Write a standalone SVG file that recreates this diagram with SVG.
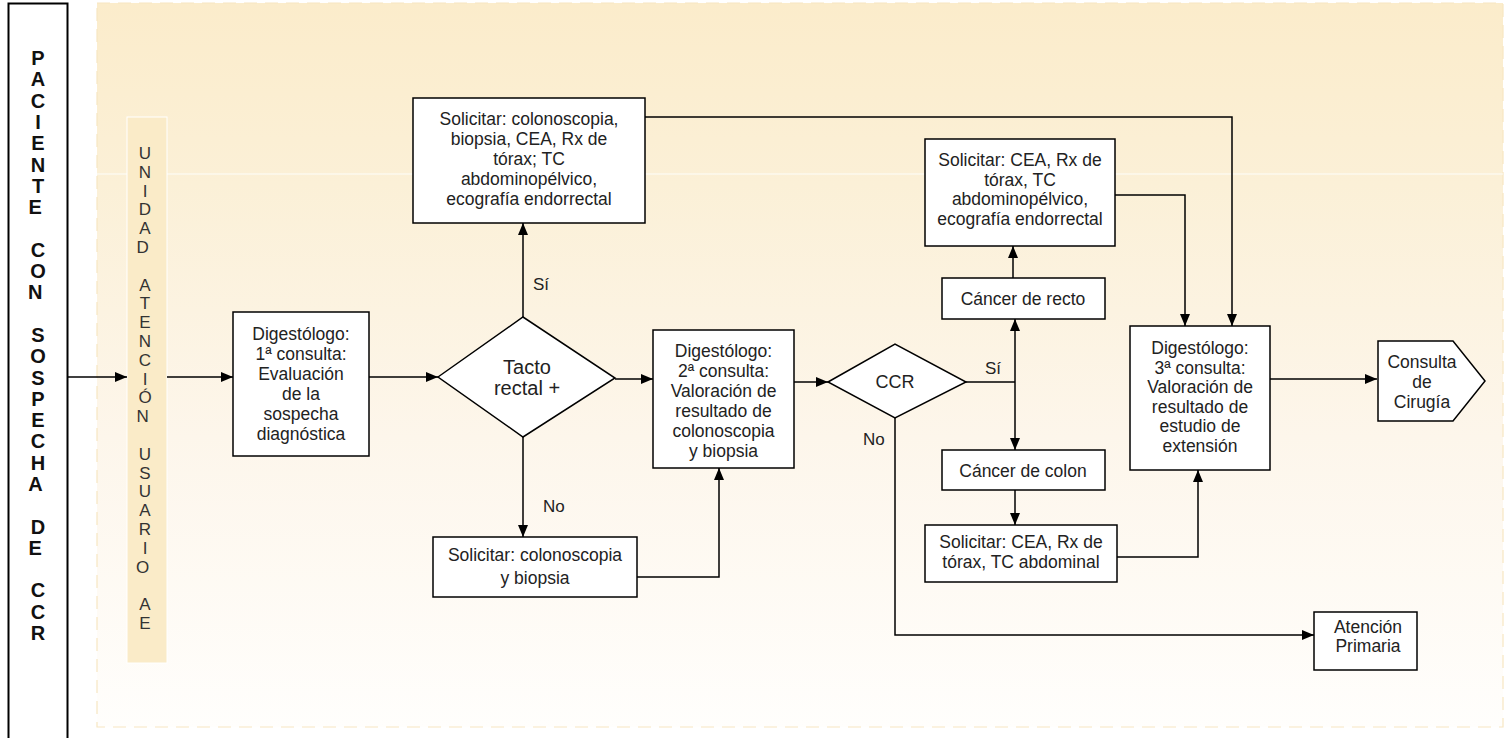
<svg xmlns="http://www.w3.org/2000/svg" width="1505" height="738" viewBox="0 0 1505 738">
  <defs>
    <linearGradient id="bg" x1="0" y1="0" x2="0" y2="1">
      <stop offset="0" stop-color="#FBECCB"/>
      <stop offset="0.25" stop-color="#FBF0D7"/>
      <stop offset="0.6" stop-color="#FDF6EB"/>
      <stop offset="1" stop-color="#FFFEFC"/>
    </linearGradient>
    <marker id="arr" viewBox="0 0 12 10" refX="12" refY="5" markerWidth="12" markerHeight="10" markerUnits="userSpaceOnUse" orient="auto">
      <path d="M0,0 L12,5 L0,10 Z" fill="#000"/>
    </marker>
  </defs>
  <style>
    .box { fill: #fff; stroke: #000; stroke-width: 1.5; }
    .t { font-family: "Liberation Sans", Arial, sans-serif; font-size: 17.5px; fill: #222; text-anchor: middle; }
    .dt { font-family: "Liberation Sans", Arial, sans-serif; font-size: 20px; fill: #222; text-anchor: middle; }
    .lbl { font-family: "Liberation Sans", Arial, sans-serif; font-size: 17px; fill: #222; }
    .side { font-family: "Liberation Sans", Arial, sans-serif; font-size: 20px; font-weight: bold; fill: #111; text-anchor: middle; }
    .unit { font-family: "Liberation Sans", Arial, sans-serif; font-size: 17px; fill: #333; text-anchor: middle; }
    .conn { fill: none; stroke: #000; stroke-width: 1.5; }
  </style>

  <rect width="1505" height="738" fill="#fff"/>

  <!-- shaded working area -->
  <g id="area">
    <rect x="97" y="3" width="1406" height="724" fill="url(#bg)" stroke="#F7E6C2" stroke-width="1.2" stroke-dasharray="13 8"/>
    <line x1="97" y1="174" x2="1503" y2="174" stroke="#fff" stroke-width="1.2" opacity="0.9"/>
  </g>

  <!-- patient lane -->
  <g id="lane-patient">
    <rect x="8.5" y="3.5" width="59" height="740" fill="#fff" stroke="#000" stroke-width="2"/>
    <text class="side" x="38" y="65">
      <tspan x="38">P</tspan><tspan x="38" dy="21.3">A</tspan><tspan x="38" dy="21.3">C</tspan><tspan x="38" dy="21.3">I</tspan><tspan x="38" dy="21.3">E</tspan><tspan x="38" dy="21.3">N</tspan><tspan x="38" dy="21.3">T</tspan><tspan x="38" dy="21.3">E</tspan>
      <tspan x="38" dy="42.6">C</tspan><tspan x="38" dy="21.3">O</tspan><tspan x="38" dy="21.3">N</tspan>
      <tspan x="38" dy="42.6">S</tspan><tspan x="38" dy="21.3">O</tspan><tspan x="38" dy="21.3">S</tspan><tspan x="38" dy="21.3">P</tspan><tspan x="38" dy="21.3">E</tspan><tspan x="38" dy="21.3">C</tspan><tspan x="38" dy="21.3">H</tspan><tspan x="38" dy="21.3">A</tspan>
      <tspan x="38" dy="42.6">D</tspan><tspan x="38" dy="21.3">E</tspan>
      <tspan x="38" dy="42.6">C</tspan><tspan x="38" dy="21.3">C</tspan><tspan x="38" dy="21.3">R</tspan>
    </text>
  </g>

  <!-- unit lane -->
  <g id="lane-unit">
    <rect x="127" y="117" width="40" height="546" fill="#FAEBC8" stroke="#fff" stroke-width="1"/>
    <text class="unit" x="145" y="159">
      <tspan x="145">U</tspan><tspan x="145" dy="18.8">N</tspan><tspan x="145" dy="18.8">I</tspan><tspan x="145" dy="18.8">D</tspan><tspan x="145" dy="18.8">A</tspan><tspan x="145" dy="18.8">D</tspan>
      <tspan x="145" dy="37.6">A</tspan><tspan x="145" dy="18.8">T</tspan><tspan x="145" dy="18.8">E</tspan><tspan x="145" dy="18.8">N</tspan><tspan x="145" dy="18.8">C</tspan><tspan x="145" dy="18.8">I</tspan><tspan x="145" dy="18.8">Ó</tspan><tspan x="145" dy="18.8">N</tspan>
      <tspan x="145" dy="37.6">U</tspan><tspan x="145" dy="18.8">S</tspan><tspan x="145" dy="18.8">U</tspan><tspan x="145" dy="18.8">A</tspan><tspan x="145" dy="18.8">R</tspan><tspan x="145" dy="18.8">I</tspan><tspan x="145" dy="18.8">O</tspan>
      <tspan x="145" dy="37.6">A</tspan><tspan x="145" dy="18.8">E</tspan>
    </text>
  </g>

  <!-- connectors -->
  <g id="connectors">
    <line class="conn" x1="68" y1="377" x2="127" y2="377" marker-end="url(#arr)"/>
    <line class="conn" x1="167" y1="377" x2="233" y2="377" marker-end="url(#arr)"/>
    <line class="conn" x1="369" y1="377" x2="438" y2="377" marker-end="url(#arr)"/>
    <line class="conn" x1="523" y1="317" x2="523" y2="223" marker-end="url(#arr)"/>
    <line class="conn" x1="523" y1="437" x2="523" y2="537" marker-end="url(#arr)"/>
    <line class="conn" x1="615" y1="379" x2="653" y2="379" marker-end="url(#arr)"/>
    <polyline class="conn" points="637,577 719,577 719,468" marker-end="url(#arr)"/>
    <line class="conn" x1="794" y1="382" x2="828" y2="382" marker-end="url(#arr)"/>
    <line class="conn" x1="966" y1="382" x2="1015" y2="382"/>
    <line class="conn" x1="1015" y1="382" x2="1015" y2="319" marker-end="url(#arr)"/>
    <line class="conn" x1="1015" y1="382" x2="1015" y2="450" marker-end="url(#arr)"/>
    <line class="conn" x1="1013" y1="278" x2="1013" y2="246" marker-end="url(#arr)"/>
    <line class="conn" x1="1015" y1="490" x2="1015" y2="525" marker-end="url(#arr)"/>
    <polyline class="conn" points="645,117 1232,117 1232,326" marker-end="url(#arr)"/>
    <polyline class="conn" points="1115,195 1185,195 1185,326" marker-end="url(#arr)"/>
    <polyline class="conn" points="1117,557 1198,557 1198,470" marker-end="url(#arr)"/>
    <line class="conn" x1="1270" y1="379" x2="1377" y2="379" marker-end="url(#arr)"/>
    <polyline class="conn" points="895,418 895,635 1314,635" marker-end="url(#arr)"/>
    <text class="lbl" x="533" y="290">Sí</text>
    <text class="lbl" x="543" y="512">No</text>
    <text class="lbl" x="985" y="374">Sí</text>
    <text class="lbl" x="863" y="445">No</text>
  </g>

  <g id="n-consulta1">
    <rect class="box" x="233" y="312" width="136" height="144"/>
    <text class="t" x="301" y="340"><tspan x="301">Digestólogo:</tspan><tspan x="301" dy="20">1ª consulta:</tspan><tspan x="301" dy="20">Evaluación</tspan><tspan x="301" dy="20">de la</tspan><tspan x="301" dy="20">sospecha</tspan><tspan x="301" dy="20">diagnóstica</tspan></text>
  </g>

  <g id="n-tacto">
    <polygon class="box" points="438,377 523,317 615,378 523,437"/>
    <text class="dt" x="527" y="374"><tspan x="527">Tacto</tspan><tspan x="527" dy="21">rectal +</tspan></text>
  </g>

  <g id="n-solicitar-completo">
    <rect class="box" x="413" y="98" width="232" height="125"/>
    <text class="t" x="529" y="125"><tspan x="529">Solicitar: colonoscopia,</tspan><tspan x="529" dy="20">biopsia, CEA, Rx de</tspan><tspan x="529" dy="20">tórax; TC</tspan><tspan x="529" dy="20">abdominopélvico,</tspan><tspan x="529" dy="20">ecografía endorrectal</tspan></text>
  </g>

  <g id="n-solicitar-colono">
    <rect class="box" x="433" y="537" width="204" height="60"/>
    <text class="t" x="535" y="561"><tspan x="535">Solicitar: colonoscopia</tspan><tspan x="535" dy="23">y biopsia</tspan></text>
  </g>

  <g id="n-consulta2">
    <rect class="box" x="653" y="330" width="141" height="138"/>
    <text class="t" x="723.5" y="357"><tspan x="723.5">Digestólogo:</tspan><tspan x="723.5" dy="20">2ª consulta:</tspan><tspan x="723.5" dy="20">Valoración de</tspan><tspan x="723.5" dy="20">resultado de</tspan><tspan x="723.5" dy="20">colonoscopia</tspan><tspan x="723.5" dy="20">y biopsia</tspan></text>
  </g>

  <g id="n-ccr">
    <polygon class="box" points="828,382 895,344 966,382 895,418"/>
    <text class="dt" x="895" y="388" style="font-size:18px">CCR</text>
  </g>

  <g id="n-solicitar-recto">
    <rect class="box" x="925" y="139" width="190" height="107"/>
    <text class="t" x="1020" y="166"><tspan x="1020">Solicitar: CEA, Rx de</tspan><tspan x="1020" dy="19.5">tórax, TC</tspan><tspan x="1020" dy="19.5">abdominopélvico,</tspan><tspan x="1020" dy="19.5">ecografía endorrectal</tspan></text>
  </g>

  <g id="n-recto">
    <rect class="box" x="942" y="278" width="163" height="41"/>
    <text class="t" x="1023" y="305">Cáncer de recto</text>
  </g>

  <g id="n-colon">
    <rect class="box" x="942" y="450" width="163" height="40"/>
    <text class="t" x="1023" y="477">Cáncer de colon</text>
  </g>

  <g id="n-solicitar-colon">
    <rect class="box" x="925" y="525" width="192" height="57"/>
    <text class="t" x="1021" y="548"><tspan x="1021">Solicitar: CEA, Rx de</tspan><tspan x="1021" dy="20">tórax, TC abdominal</tspan></text>
  </g>

  <g id="n-consulta3">
    <rect class="box" x="1130" y="326" width="140" height="144"/>
    <text class="t" x="1200" y="354"><tspan x="1200">Digestólogo:</tspan><tspan x="1200" dy="19.5">3ª consulta:</tspan><tspan x="1200" dy="19.5">Valoración de</tspan><tspan x="1200" dy="19.5">resultado de</tspan><tspan x="1200" dy="19.5">estudio de</tspan><tspan x="1200" dy="19.5">extensión</tspan></text>
  </g>

  <g id="n-cirugia">
    <polygon class="box" points="1378,341 1453,341 1485,381 1453,421 1378,421"/>
    <text class="t" x="1422" y="368"><tspan x="1422">Consulta</tspan><tspan x="1422" dy="20">de</tspan><tspan x="1422" dy="20">Cirugía</tspan></text>
  </g>

  <g id="n-primaria">
    <rect class="box" x="1314" y="612" width="103" height="58"/>
    <text class="t" x="1368" y="633"><tspan x="1368">Atención</tspan><tspan x="1368" dy="19">Primaria</tspan></text>
  </g>
</svg>
